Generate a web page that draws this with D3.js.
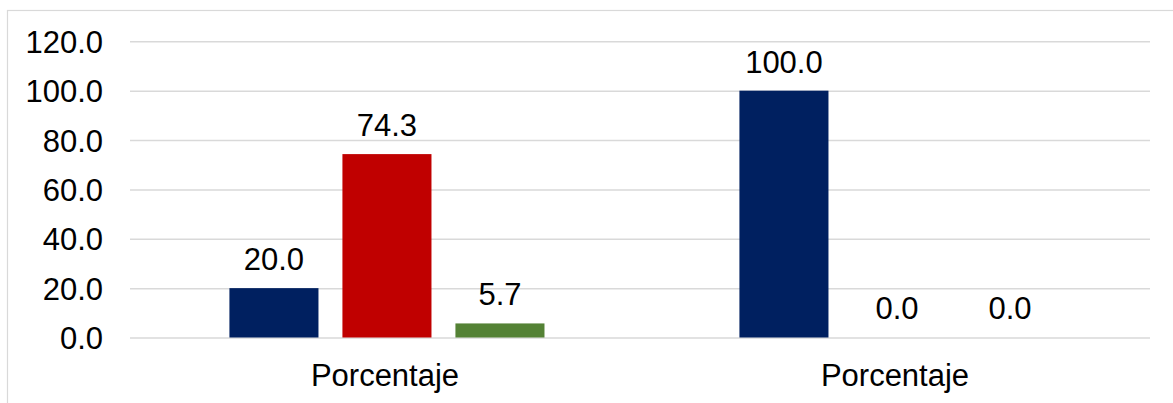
<!DOCTYPE html>
<html>
<head>
<meta charset="utf-8">
<script src="https://cdn.jsdelivr.net/npm/d3@7"></script>
<style>
  body { margin: 0; background: #fff; }
  svg { display: block; font-family: "Liberation Sans", Arial, sans-serif; }
</style>
</head>
<body>
<svg></svg>
<script>
// chart data
var categories = ["Porcentaje", "Porcentaje"];
var seriesKeys = ["s1", "s2", "s3"];
var seriesColors = ["#002060", "#C00000", "#548235"];
var s1 = [20.0, 100.0];
var s2 = [74.3, 0.0];
var s3 = [5.7, 0.0];
var yTicks = [0, 20, 40, 60, 80, 100, 120];

var svg = d3.select("svg")
  .attr("width", 1173)
  .attr("height", 403);

var margins = {top: 41.3, left: 130, right: 23, bottom: 65.5};
var width = 1173 - margins.left - margins.right;
var height = 403 - margins.top - margins.bottom;

// chart area border
svg.append("rect")
  .attr("x", 7.5).attr("y", 10.5)
  .attr("width", 1180).attr("height", 410)
  .attr("fill", "none")
  .attr("stroke", "#d9d9d9")
  .attr("stroke-width", 1.2);

var rows = categories.map(function(c, i) {
  return {idx: i, name: c, values: [s1[i], s2[i], s3[i]]};
});

var x0 = d3.scaleBand()
  .domain(rows.map(function(d) { return d.idx; }))
  .range([0, width]);

var x1 = d3.scaleBand()
  .domain(seriesKeys)
  .range([0, x0.bandwidth()])
  .paddingInner(0.212)
  .paddingOuter(0.8625)
  .align(0.51);

var y = d3.scaleLinear()
  .domain([0, 120])
  .range([height, 0]);

var g = svg.append("g")
  .attr("transform", "translate(" + margins.left + "," + margins.top + ")");

var yAxis = d3.axisLeft(y)
  .tickValues(yTicks)
  .tickSize(-width)
  .tickPadding(27)
  .tickFormat(d3.format(".1f"));

g.append("g")
  .attr("class", "y-axis")
  .call(yAxis)
  .call(function(a) {
    a.select(".domain").remove();
    a.selectAll("line").attr("stroke", "#d9d9d9").attr("stroke-width", 1.5);
    a.selectAll("text")
      .attr("font-size", 31)
      .attr("font-family", "Liberation Sans, Arial, sans-serif")
      .attr("fill", "#000")
      .attr("dy", "0.36em");
  });

var groups = g.selectAll(".grp")
  .data(rows)
  .enter()
  .append("g")
  .attr("class", "grp")
  .attr("transform", function(d) { return "translate(" + x0(d.idx) + ",0)"; });

var bars = groups.selectAll(".bar")
  .data(function(d) {
    return d.values.map(function(v, k) { return {key: seriesKeys[k], k: k, value: v}; });
  })
  .enter();

bars.append("rect")
  .attr("class", "bar")
  .attr("x", function(d) { return x1(d.key); })
  .attr("y", function(d) { return y(d.value); })
  .attr("width", x1.bandwidth())
  .attr("height", function(d) { return height - y(d.value); })
  .attr("fill", function(d) { return seriesColors[d.k]; });

bars.append("text")
  .attr("x", function(d) { return x1(d.key) + x1.bandwidth() / 2; })
  .attr("y", function(d) { return y(d.value) - 18; })
  .attr("text-anchor", "middle")
  .attr("font-size", 31)
  .attr("fill", "#000")
  .text(function(d) { return d3.format(".1f")(d.value); });

// category labels
g.selectAll(".cat")
  .data(rows)
  .enter()
  .append("text")
  .attr("class", "cat")
  .attr("x", function(d) { return x0(d.idx) + x0.bandwidth() / 2; })
  .attr("y", height + 49)
  .attr("text-anchor", "middle")
  .attr("font-size", 31)
  .attr("fill", "#000")
  .text(function(d) { return d.name; });
</script>
</body>
</html>
